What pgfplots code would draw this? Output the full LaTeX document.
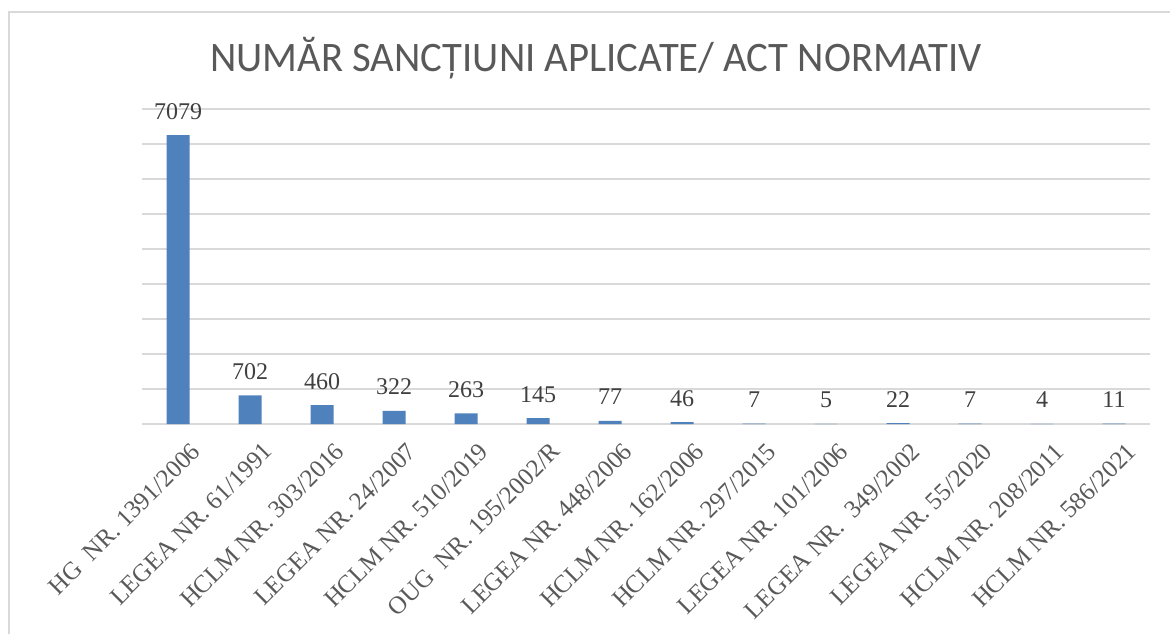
\documentclass[border=0pt]{standalone}
\usepackage{pgfplots}
\pgfplotsset{compat=1.18}
\usepackage{fontspec}
\setmainfont{Liberation Serif}
\newfontfamily\titlefont[FakeStretch=0.97]{Carlito}
\definecolor{barblue}{HTML}{4F81BD}
\definecolor{gridgray}{HTML}{D9D9D9}
\definecolor{labelgray}{HTML}{595959}
\definecolor{valgray}{HTML}{404040}
\begin{document}
\begin{tikzpicture}
\useasboundingbox (0,0) rectangle (585pt,316.5pt);
\draw[gridgray, line width=1pt] (4.5pt,-2pt) -- (4.5pt,310.5pt) -- (590pt,310.5pt);
\node[anchor=base, text=labelgray, font=\titlefont\fontsize{21}{25}\selectfont, inner sep=0pt] at (298pt,280.5pt) {NUMĂR SANCȚIUNI APLICATE/ ACT NORMATIV};
\begin{axis}[
  at={(71pt,104.5pt)}, anchor=south west,
  scale only axis, width=504pt, height=157.5pt,
  xmin=-0.5, xmax=13.5, ymin=0, ymax=7722,
  ytick={0,858,1716,2574,3432,4290,5148,6006,6864,7722},
  yticklabels={},
  ymajorgrids, grid style={gridgray, line width=0.75pt},
  axis line style={draw=none},
  major tick length=0pt,
  xtick=data,
  xticklabels={{HG~ NR. 1391/2006},{LEGEA NR. 61/1991},{HCLM NR. 303/2016},{LEGEA NR. 24/2007},{HCLM NR. 510/2019},{OUG~ NR. 195/2002/R},{LEGEA NR. 448/2006},{HCLM NR. 162/2006},{HCLM NR. 297/2015},{LEGEA NR. 101/2006},{LEGEA NR.~ 349/2002},{LEGEA NR. 55/2020},{HCLM NR. 208/2011},{HCLM NR. 586/2021}},
  xticklabel style={anchor=north east, font=\fontsize{12.5}{14}\selectfont, text=labelgray, inner sep=1pt, xshift=6pt, yshift=-7pt, rotate=45},
  ybar, bar width=11.5pt,
  nodes near coords={\pgfmathprintnumber[assume math mode=true, 1000 sep={}]{\pgfplotspointmeta}},
  every node near coord/.append style={font=\fontsize{12}{14}\selectfont, text=valgray, anchor=base, yshift=8pt, inner sep=0pt},
  clip=false,
]
\addplot[fill=barblue, draw=none] coordinates {
(0,7079) (1,702) (2,460) (3,322) (4,263) (5,145) (6,77) (7,46) (8,7) (9,5) (10,22) (11,7) (12,4) (13,11)
};
\end{axis}
\end{tikzpicture}
\end{document}
